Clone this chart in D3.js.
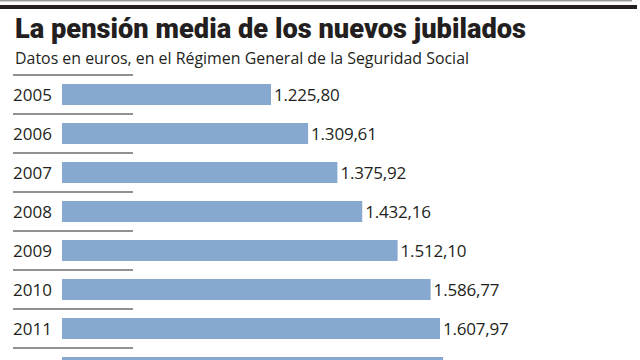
<!DOCTYPE html>
<html><head><meta charset="utf-8">
<script src="https://cdn.jsdelivr.net/npm/d3@7"></script>
<style>html,body{margin:0;padding:0;background:#fff;overflow:hidden}</style>
</head><body>
<svg id="c" width="640" height="360"></svg>
<script>
const years = ["2005","2006","2007","2008","2009","2010","2011","2012"];
const values = [1225.80, 1309.61, 1375.92, 1432.16, 1512.10, 1586.77, 1607.97, 1615.0];
const valueLabels = ["1.225,80","1.309,61","1.375,92","1.432,16","1.512,10","1.586,77","1.607,97","1.615,00"];
const title = "La pensión media de los nuevos jubilados";
const subtitle = "Datos en euros, en el Régimen General de la Seguridad Social";

const svg = d3.select("#c");
const ink = "#231f20";

svg.append("rect").attr("x",0).attr("y",0).attr("width",632).attr("height",1.5).attr("fill","#9a9a9a");
svg.append("rect").attr("x",0).attr("y",5).attr("width",637).attr("height",4).attr("fill",ink);

svg.append("text").attr("x",15).attr("y",37.5)
  .attr("font-family","Roboto, 'Liberation Sans', sans-serif").attr("font-weight",900)
  .attr("font-size",27).attr("fill",ink)
  .attr("textLength",511).attr("lengthAdjust","spacingAndGlyphs")
  .text(title);

svg.append("text").attr("x",15).attr("y",63.5)
  .attr("font-family","'Open Sans', sans-serif").attr("font-size",15.5).attr("fill",ink)
  .attr("textLength",454).attr("lengthAdjust","spacingAndGlyphs")
  .text(subtitle);

const y = d3.scaleBand().domain(years).range([75, 75 + 39*years.length])
  .paddingInner(18/39).paddingOuter(9/39);
const x = d3.scaleLinear().domain([753, 1608]).range([62, 440]);

const g = svg.append("g");
years.forEach((yr, i) => {
  const top = y(yr) - y.step()*y.paddingOuter();
  g.append("line").attr("x1",13).attr("x2",133).attr("y1",top).attr("y2",top)
    .attr("stroke","#6d6d6d").attr("stroke-width",1.3);
  g.append("rect").attr("x",x(753)).attr("y",y(yr))
    .attr("width",x(values[i]) - x(753)).attr("height",y.bandwidth())
    .attr("fill","#88a9cf");
  const cy = y(yr) + y.bandwidth()/2;
  if (cy + 6.5 > 360) return; // labels of the last row fall below the visible area
  g.append("text").attr("x",13).attr("y",cy+6.5)
    .attr("font-family","'Open Sans', sans-serif").attr("font-size",17).attr("fill",ink)
    .text(yr);
  g.append("text").attr("x",x(values[i]) + 3).attr("y",cy+6.5)
    .attr("font-family","'Open Sans', sans-serif").attr("font-size",17).attr("fill",ink)
    .attr("letter-spacing",-0.2)
    .text(valueLabels[i]);
});
</script>
</body></html>
